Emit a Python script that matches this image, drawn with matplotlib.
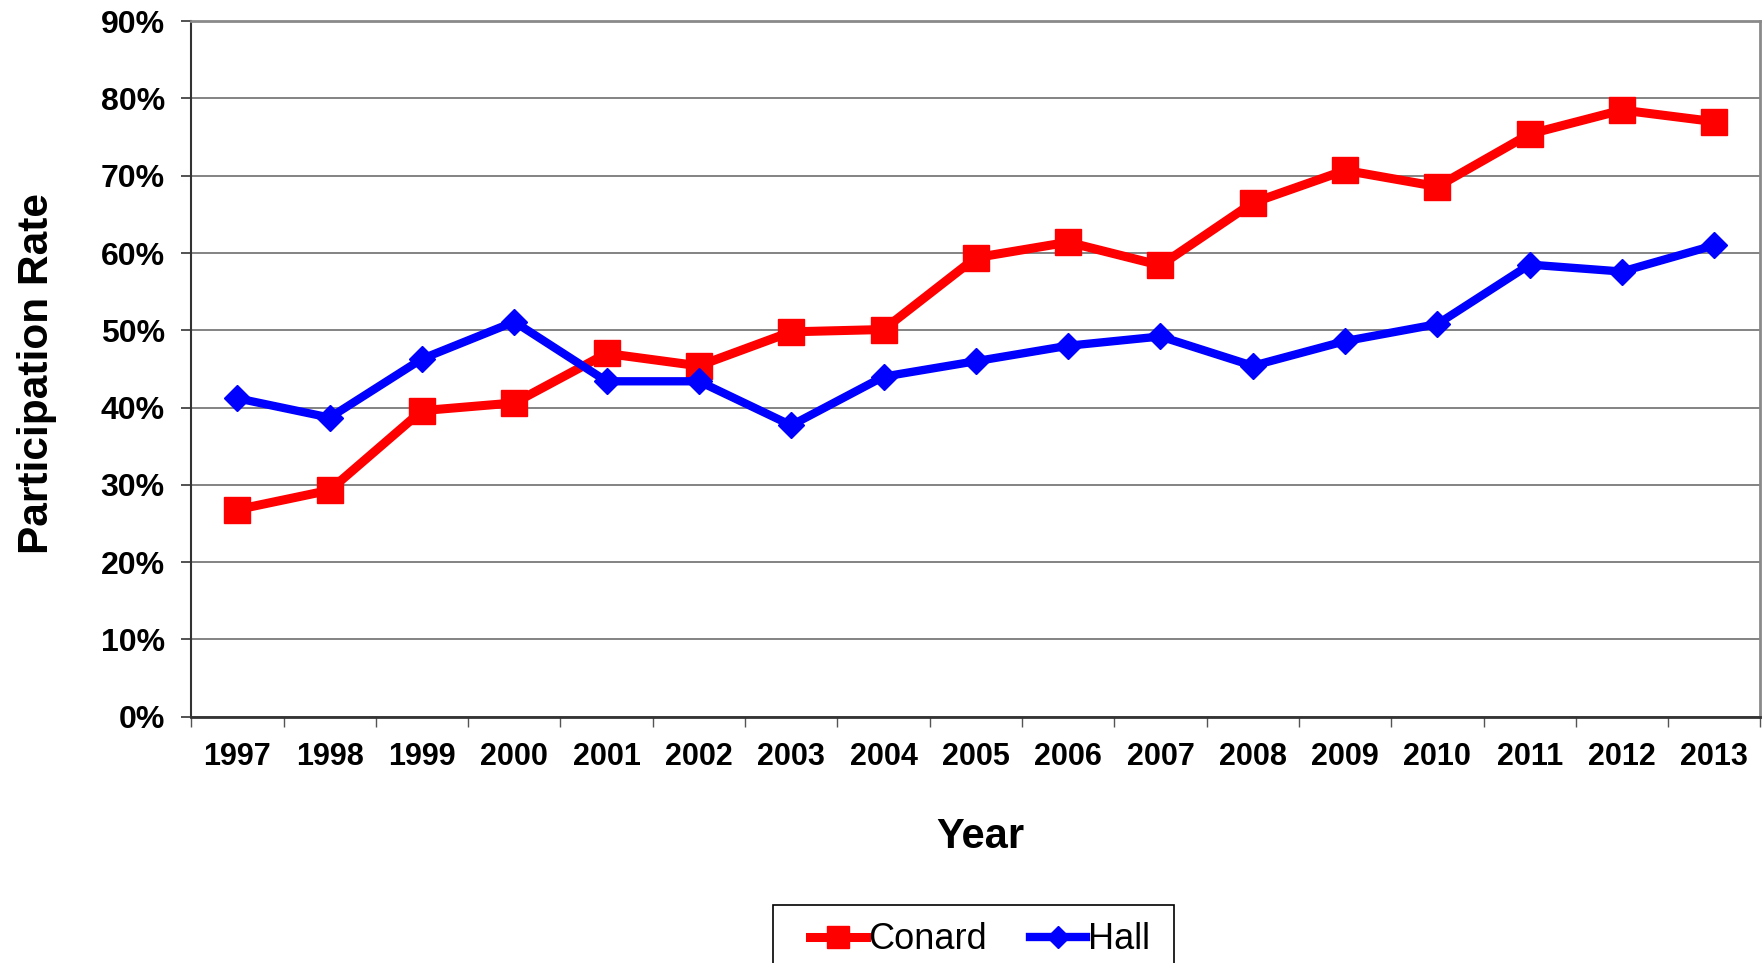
import matplotlib
matplotlib.use("Agg")
import matplotlib.pyplot as plt
from matplotlib.ticker import FixedLocator, FuncFormatter
from matplotlib.patches import Rectangle

years = ["1997", "1998", "1999", "2000", "2001", "2002", "2003", "2004", "2005",
         "2006", "2007", "2008", "2009", "2010", "2011", "2012", "2013"]
conard = [26.8, 29.3, 39.6, 40.6, 47.0, 45.4, 49.8, 50.1, 59.4,
          61.4, 58.4, 66.5, 70.7, 68.6, 75.4, 78.5, 77.0]
hall = [41.2, 38.7, 46.3, 51.1, 43.4, 43.4, 37.7, 44.0, 46.0,
        48.0, 49.2, 45.4, 48.6, 50.8, 58.5, 57.6, 61.0]
y_ticks = [0, 10, 20, 30, 40, 50, 60, 70, 80, 90]

plt.rcParams['font.family'] = ['Liberation Sans', 'DejaVu Sans']

fig = plt.figure(figsize=(17.64, 9.63), dpi=100)
ax = fig.add_axes([0.1084, 0.2558, 0.8896, 0.7222])

x = list(range(len(years)))
ax.plot(x, conard, color='#FF0000', lw=6.5, marker='s', markersize=19,
        label='Conard', zorder=3, solid_joinstyle='miter')
ax.plot(x, hall, color='#0000FF', lw=6, marker='D', markersize=13.5,
        label='Hall', zorder=4, solid_joinstyle='miter')

ax.set_xlim(-0.5, len(years) - 0.5)
ax.set_ylim(0, 90)

ax.yaxis.set_major_locator(FixedLocator(y_ticks))
ax.yaxis.set_major_formatter(FuncFormatter(lambda v, p: f"{v:.0f}%"))
ax.grid(axis='y', color='#6e6e6e', lw=1.2)
ax.set_axisbelow(True)

ax.set_xticks(x)
ax.set_xticklabels(years)
ax.set_xticks([i - 0.5 for i in range(len(years) + 1)], minor=True)
ax.tick_params(axis='x', which='major', length=0, pad=18, labelsize=22)
ax.tick_params(axis='x', which='minor', length=7, width=1, color='#555555', direction='out')
ax.tick_params(axis='y', which='major', length=7, width=1.2, color='#333333', pad=12, labelsize=23)
for lab in ax.get_xticklabels() + ax.get_yticklabels():
    lab.set_fontweight('bold')

ax.spines['left'].set_color('#333333')
ax.spines['left'].set_linewidth(1.5)
ax.spines['bottom'].set_color('#333333')
ax.spines['bottom'].set_linewidth(2)
ax.spines['top'].set_color('#8a8a8a')
ax.spines['top'].set_linewidth(2)
ax.spines['right'].set_color('#8a8a8a')
ax.spines['right'].set_linewidth(2)

fig.text(0.021, 0.612, 'Participation Rate', rotation=90, ha='center', va='center',
         fontsize=30.5, fontweight='bold')
fig.text(0.5555, 0.131, 'Year', ha='center', va='center', fontsize=30, fontweight='bold')

leg = ax.legend(loc='upper center', bbox_to_anchor=(0.5555, 0.061),
                bbox_transform=fig.transFigure, ncol=2, fontsize=26,
                frameon=False, handlelength=1.55, handletextpad=0.05,
                columnspacing=1.2, borderpad=0.5, borderaxespad=0)
for h in leg.legend_handles:
    h.set_markersize(h.get_markersize() * 0.8)

frame = Rectangle((0.4381, -0.05), 0.6658 - 0.4381, 0.0607 + 0.05,
                  transform=fig.transFigure, fill=False, edgecolor='black',
                  linewidth=1.2, clip_on=False)
fig.add_artist(frame)

fig.savefig('out.png', dpi=100)
